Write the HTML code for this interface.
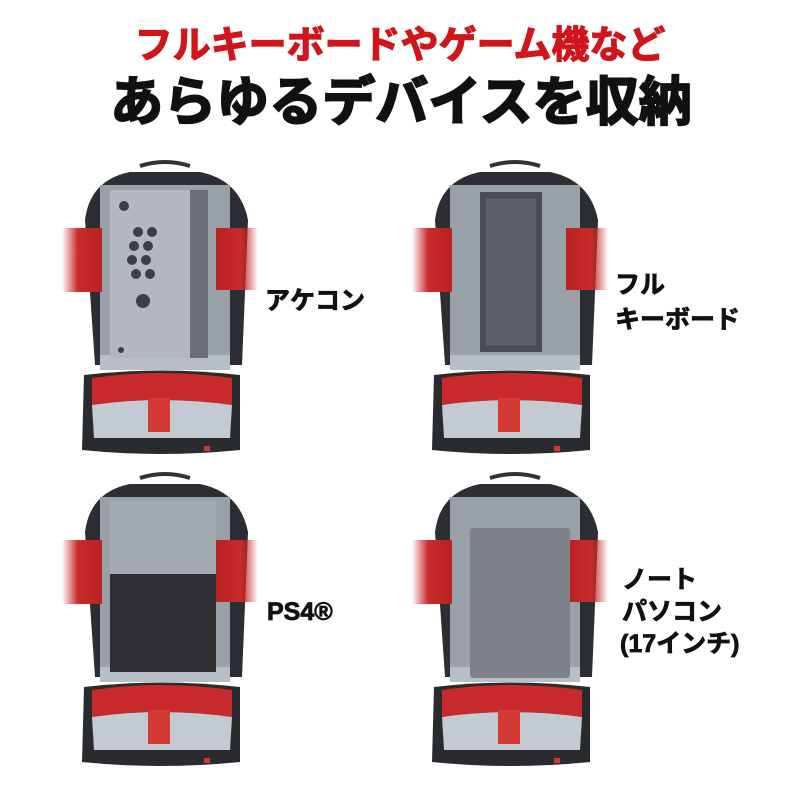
<!DOCTYPE html>
<html><head><meta charset="utf-8"><style>
body{margin:0;background:#fff}
svg{display:block}
text{font-family:"Liberation Sans","Noto Sans CJK JP",sans-serif;font-weight:bold}
</style></head><body>
<svg width="800" height="800" viewBox="0 0 800 800" xmlns="http://www.w3.org/2000/svg">
<defs>
<linearGradient id="rl" x1="0" x2="1"><stop offset="0" stop-color="#c92a2a" stop-opacity="0"/><stop offset="0.4" stop-color="#c92a2a"/><stop offset="1" stop-color="#b82222"/></linearGradient>
<linearGradient id="rr" x1="1" x2="0"><stop offset="0" stop-color="#c92a2a" stop-opacity="0"/><stop offset="0.4" stop-color="#c92a2a"/><stop offset="1" stop-color="#b82222"/></linearGradient>
<g id="pack">
  <path d="M140 166 q25 -8 50 0" stroke="#333" stroke-width="4" fill="none"/>
  <path d="M95 365 L85 220 Q90 180 130 172 L200 172 Q240 180 248 220 L242 365 Z" fill="#2c2e33"/>
  <rect x="100" y="185" width="130" height="180" fill="#9aa0a8"/>
  <rect x="100" y="355" width="130" height="15" fill="#b8bec6"/>
  <rect x="62" y="228" width="40" height="64" fill="url(#rl)"/>
  <rect x="216" y="228" width="42" height="62" fill="url(#rr)"/>
  <path d="M84 375 Q160 366 240 375 L240 450 Q160 458 82 450 Z" fill="#2a2b2f"/>
  <path d="M92 378 Q160 368 232 378 L232 405 Q160 395 92 405 Z" fill="#c8292b"/>
  <path d="M92 405 Q160 395 232 405 L230 438 L94 438 Z" fill="#c4cad2"/>
  <rect x="148" y="398" width="22" height="34" fill="#d23a33"/>
  <rect x="204" y="446" width="6" height="5" fill="#d33"/>
</g>
</defs>
<text x="400" y="58" font-size="38" fill="#d2141b" stroke="#d2141b" stroke-width="1.2" text-anchor="middle">フルキーボードやゲーム機など</text>
<text x="401" y="120" font-size="53" fill="#111" stroke="#111" stroke-width="2" text-anchor="middle">あらゆるデバイスを収納</text>

<use href="#pack"/>
<use href="#pack" transform="translate(350,0)"/>
<use href="#pack" transform="translate(0,312)"/>
<use href="#pack" transform="translate(350,312)"/>

<rect x="110" y="190" width="82" height="168" fill="#b3b8bf"/>
<g fill="#3c3f45">
<circle cx="124" cy="206" r="5"/><circle cx="138" cy="232" r="5"/><circle cx="152" cy="232" r="5"/>
<circle cx="134" cy="246" r="5"/><circle cx="148" cy="246" r="5"/><circle cx="132" cy="260" r="5"/><circle cx="146" cy="260" r="5"/>
<circle cx="136" cy="274" r="5"/><circle cx="150" cy="274" r="5"/><circle cx="143" cy="301" r="7"/><circle cx="121" cy="350" r="3"/>
</g>
<rect x="190" y="190" width="18" height="168" fill="#6b7078"/>
<rect x="480" y="192" width="62" height="160" fill="#4a4d53"/>
<rect x="485" y="198" width="52" height="148" fill="#5c6067" stroke="#44474c"/>
<rect x="110" y="574" width="106" height="98" fill="#2d2f33"/>
<rect x="110" y="500" width="106" height="74" fill="#a3a9b1"/>
<rect x="470" y="528" width="100" height="150" rx="3" fill="#7d8188"/>

<g fill="#111" stroke="#111" stroke-width="0.8" font-size="25">
<text x="265" y="309">アケコン</text>
<text x="615" y="293">フル</text>
<text x="615" y="328">キーボード</text>
<text x="267" y="620">PS4®</text>
<text x="622" y="588">ノート</text>
<text x="622" y="620">パソコン</text>
<text x="620" y="652">(17インチ)</text>
</g>
</svg>
</body></html>
